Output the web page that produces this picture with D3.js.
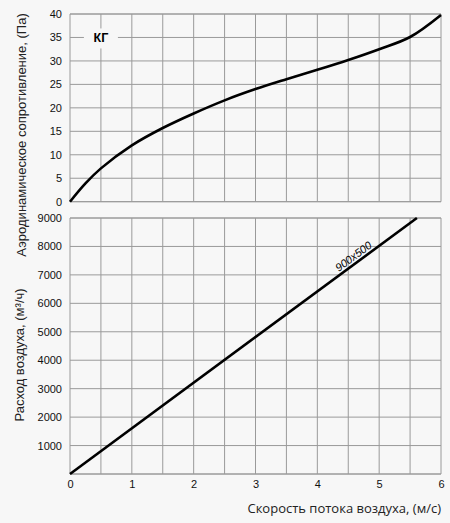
<!DOCTYPE html>
<html>
<head>
<meta charset="utf-8">
<script src="https://cdn.jsdelivr.net/npm/d3@7"></script>
<style>
    body { margin: 0; background: #f7f7f7; }
    #chart { width: 450px; height: 523px; }
    .grid line { stroke: #9a9a9a; stroke-width: 1; }
    .tick text { font-family: "Liberation Sans", Arial, sans-serif; font-size: 11px; fill: #111; }
    .axis-title { font-family: "Liberation Sans", Arial, sans-serif; font-size: 13px; fill: #222; }
    .line { fill: none; stroke: #000; stroke-width: 2.6; }
</style>
</head>
<body>
<div id="chart"></div>
<script>
// скорость воздуха, м/с
const xTicks = [0, 1, 2, 3, 4, 5, 6];

// аэродинамическое сопротивление, Па
const speedPa = [0, 0.25, 0.5, 1, 1.5, 2, 2.5, 3, 3.5, 4, 4.5, 5, 5.5, 6];
const pressure = [0, 3.9, 7.1, 12.0, 15.7, 18.8, 21.6, 24.0, 26.1, 28.1, 30.2, 32.5, 35.1, 39.8];
const pressureTicks = [0, 5, 10, 15, 20, 25, 30, 35, 40];

// расход воздуха, м3/ч
const speedFlow = [0, 5.61];
const flow = [0, 9000];
const flowTicks = [1000, 2000, 3000, 4000, 5000, 6000, 7000, 8000, 9000];
const flowLabel = "900x500";
const modelLabel = "КГ";

const width = 450, height = 523;
const margin = { left: 70, right: 9 };
const topPanel = { top: 14, bottom: 201.7 };
const bottomPanel = { top: 218, bottom: 474 };

const svg = d3.select("#chart")
    .append("svg")
    .attr("width", width)
    .attr("height", height);

const x = d3.scaleLinear()
    .domain([0, 6])
    .range([margin.left, width - margin.right]);

const yPa = d3.scaleLinear()
    .domain([0, 40])
    .range([topPanel.bottom, topPanel.top]);

const yFlow = d3.scaleLinear()
    .domain([0, 9000])
    .range([bottomPanel.bottom, bottomPanel.top]);

const halfSteps = d3.range(0, 6.01, 0.5);

function drawPanel(y, yTicks, panel) {
    const g = svg.append("g").attr("class", "grid");
    // вертикальная сетка
    g.selectAll(".v")
        .data(halfSteps)
        .join("line")
        .attr("x1", d => x(d)).attr("x2", d => x(d))
        .attr("y1", panel.top).attr("y2", panel.bottom);
    // горизонтальная сетка
    g.selectAll(".h")
        .data(y.ticks(9).concat(y.domain()))
        .join("line")
        .attr("x1", x(0)).attr("x2", x(6))
        .attr("y1", d => y(d)).attr("y2", d => y(d));

    svg.append("g")
        .attr("transform", `translate(${margin.left},0)`)
        .call(d3.axisLeft(y).tickValues(yTicks).tickFormat(d3.format("d")).tickSize(0).tickPadding(8))
        .call(a => a.select(".domain").remove());
}

drawPanel(yPa, pressureTicks, topPanel);
drawPanel(yFlow, flowTicks, bottomPanel);

// подпись КГ поверх сетки
svg.append("rect")
    .attr("x", x(0.5) - 17).attr("y", yPa(35) - 9)
    .attr("width", 34).attr("height", 20)
    .attr("fill", "#f7f7f7");
svg.append("text")
    .attr("x", x(0.5)).attr("y", yPa(35) + 4.5)
    .attr("text-anchor", "middle")
    .style("font-family", "'Liberation Sans', Arial, sans-serif")
    .style("font-size", "12.5px")
    .style("font-weight", "bold")
    .text(modelLabel);

// ось X
svg.append("g")
    .attr("transform", `translate(0,${bottomPanel.bottom})`)
    .call(d3.axisBottom(x).tickValues(xTicks).tickFormat(d3.format("d")).tickSize(0).tickPadding(6))
    .call(a => a.select(".domain").remove());

// кривые
const linePa = d3.line()
    .curve(d3.curveCatmullRom.alpha(0.5))
    .x(d => x(d[0]))
    .y(d => yPa(d[1]));

svg.append("path")
    .datum(d3.zip(speedPa, pressure))
    .attr("class", "line")
    .attr("d", linePa);

const lineFlow = d3.line()
    .x(d => x(d[0]))
    .y(d => yFlow(d[1]));

svg.append("path")
    .datum(d3.zip(speedFlow, flow))
    .attr("class", "line")
    .attr("d", lineFlow);

// подпись линии
const angle = Math.atan2(yFlow(flow[1]) - yFlow(flow[0]), x(speedFlow[1]) - x(speedFlow[0])) * 180 / Math.PI;
const lx = x(4.65), ly = yFlow(4.65 * flow[1] / speedFlow[1]);
svg.append("text")
    .attr("transform", `translate(${lx},${ly}) rotate(${angle}) translate(0,-3)`)
    .attr("text-anchor", "middle")
    .style("font-family", "'Liberation Sans', Arial, sans-serif")
    .style("font-size", "11px")
    .style("font-style", "italic")
    .text(flowLabel);

// заголовки осей
svg.append("text")
    .attr("class", "axis-title")
    .attr("transform", `translate(26,${(10 + 260) / 2}) rotate(-90)`)
    .attr("text-anchor", "middle")
    .text("Аэродинамическое сопротивление, (Па)");

svg.append("text")
    .attr("class", "axis-title")
    .attr("transform", `translate(24,355) rotate(-90)`)
    .attr("text-anchor", "middle")
    .text("Расход воздуха, (м³/ч)");

svg.append("text")
    .attr("x", x(6))
    .attr("y", 513)
    .attr("text-anchor", "end")
    .style("font-family", "'Open Sans', sans-serif")
    .style("font-size", "13px")
    .style("fill", "#222")
    .text("Скорость потока воздуха, (м/с)");
</script>
</body>
</html>
